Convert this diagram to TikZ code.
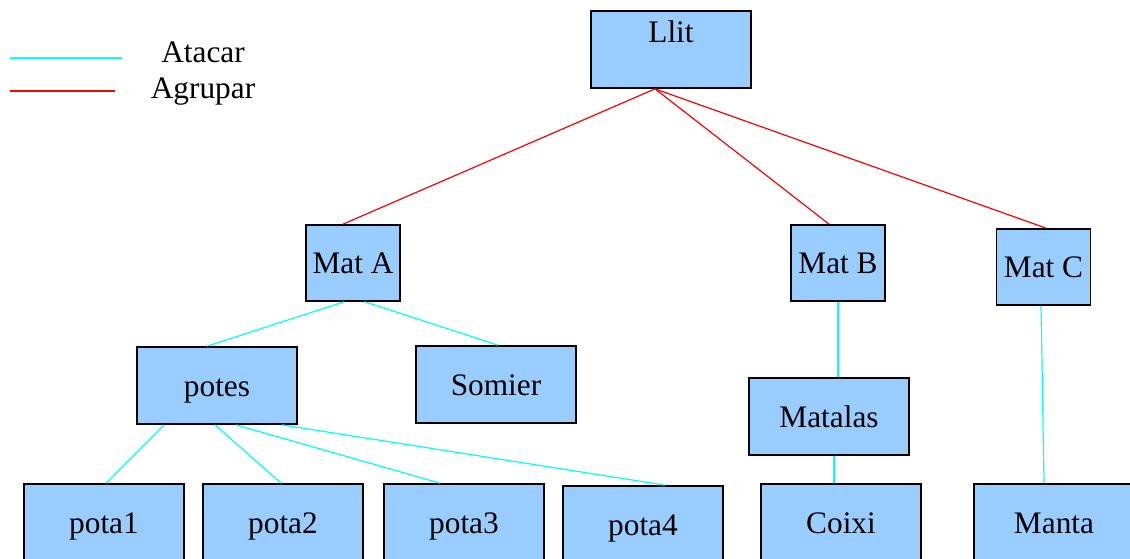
\documentclass[tikz,border=0pt]{standalone}
\usepackage{fontspec}
\setmainfont{Liberation Serif}
\usetikzlibrary{calc}

\definecolor{caixa}{HTML}{99CCFF}
\definecolor{atac}{HTML}{00FFFF}
\definecolor{agrup}{HTML}{FF0000}

\tikzset{
  lletra/.style={font=\fontsize{23.5}{26}\selectfont, text height=20pt, text depth=3.5pt},
  peca/.style={draw, fill=caixa, line width=1.3pt, inner sep=0pt, lletra,
               minimum width=120pt, minimum height=57.75pt},
  petita/.style={peca, minimum width=70.5pt, minimum height=57pt},
  atacar/.style={draw=atac, line width=0.9pt},
  agrupar/.style={draw=agrup, line width=0.9pt}
}

\begin{document}
\begin{tikzpicture}[x=0.75pt, y=-0.75pt]
    \clip (0,0) rectangle (1130,559);

    % llegenda
    \coordinate (a1) at (10,58);
    \coordinate (a2) at (122,58);
    \coordinate (g1) at (10,91);
    \coordinate (g2) at (115,91);
    \draw [atacar] (a1) -- (a2);
    \draw [agrupar] (g1) -- (g2);
    \node [lletra] (tatacar) at (203,52) {Atacar};
    \node [lletra] (tagrupar) at (203,88) {Agrupar};

    % peces
    \node [peca, text depth=31pt] (llit) at (671,49.5) {Llit};
    \node [petita] (matA) at (353,263) {Mat A};
    \node [petita] (matB) at (838,263) {Mat B};
    \node [petita] (matC) at (1043.5,267) {Mat C};
    \node [peca] (potes) at (217,385.5) {potes};
    \node [peca] (somier) at (496,384.5) {Somier};
    \node [peca] (matalas) at (829,416.5) {Matalas};
    \node [peca] (pota1) at (104,522.5) {pota1};
    \node [peca] (pota2) at (283,522.5) {pota2};
    \node [peca] (pota3) at (464,522.5) {pota3};
    \node [peca] (pota4) at (643,524.5) {pota4};
    \node [peca] (coixi) at (841,522.5) {Coixi};
    \node [peca] (manta) at (1054,522.5) {Manta};

    % agrupar
    \draw [agrupar] ($(llit.south)+(-16,0)$) -- ($(matA.north)+(-10,0)$);
    \draw [agrupar] ($(llit.south)+(-16,0)$) -- ($(matB.north)+(-9,0)$);
    \draw [agrupar] ($(llit.south)+(-16,0)$) -- ($(matC.north)+(2.5,0)$);

    % atacar
    \draw [atacar] ($(matA.south)+(-9,0)$) -- ($(potes.north)+(-10,0)$);
    \draw [atacar] ($(matA.south)+(12,0)$) -- ($(somier.north)+(2,0)$);
    \draw [atacar] ($(potes.south)+(-53,0)$) -- ($(pota1.north)+(2,0)$);
    \draw [atacar] ($(potes.south)+(-2,0)$) -- ($(pota2.north)+(-2,0)$);
    \draw [atacar] ($(potes.south)+(19,0)$) -- ($(pota3.north)+(-24,0)$);
    \draw [atacar] ($(potes.south)+(65,0)$) -- ($(pota4.north)+(22,0)$);
    \draw [atacar] (matB.south) -- ($(matalas.north)+(9,0)$);
    \draw [atacar] ($(matalas.south)+(5,0)$) -- ($(coixi.north)+(-7,0)$);
    \draw [atacar] ($(matC.south)+(-2.5,0)$) -- ($(manta.north)+(-10,0)$);
\end{tikzpicture}
\end{document}
